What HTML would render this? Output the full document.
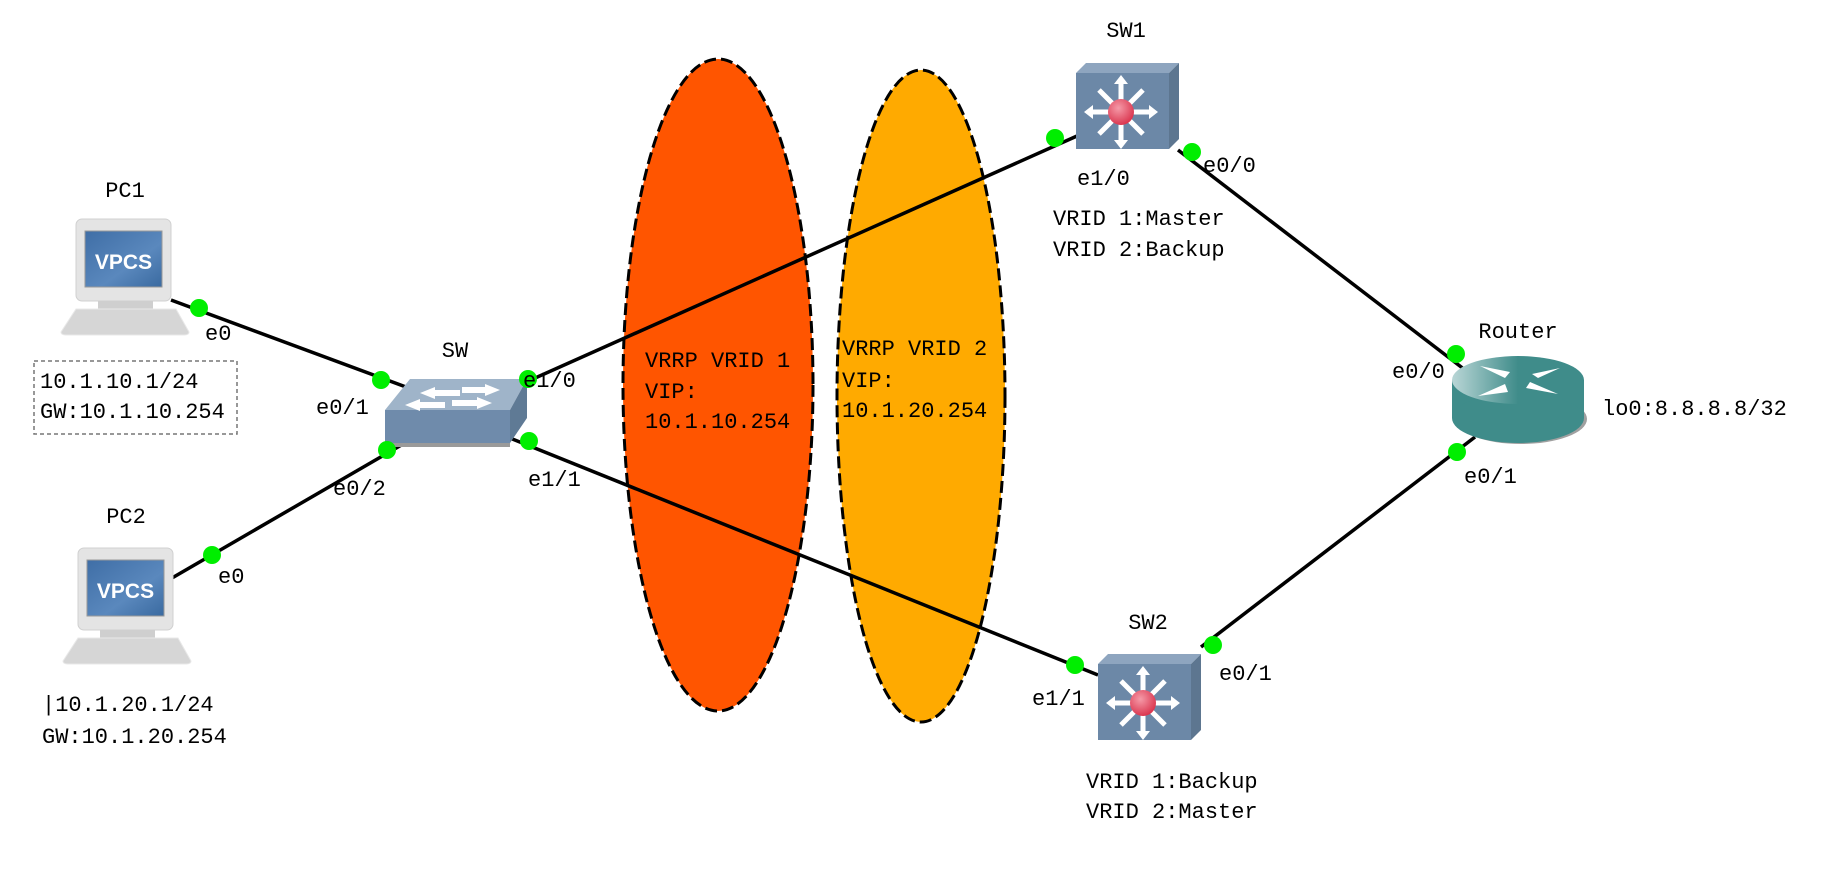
<!DOCTYPE html>
<html><head><meta charset="utf-8"><style>
html,body{margin:0;padding:0;background:#fff;}
svg text{font-family:"Liberation Mono","Noto Sans CJK SC",monospace;font-size:22px;fill:#000;}
</style></head><body>
<svg width="1828" height="864" viewBox="0 0 1828 864" xmlns="http://www.w3.org/2000/svg">
<defs>
<linearGradient id="scr" x1="0" y1="0" x2="1" y2="1"><stop offset="0" stop-color="#3f6ea6"/><stop offset="0.6" stop-color="#5a88bd"/><stop offset="1" stop-color="#3a6aa0"/></linearGradient>
<linearGradient id="rt" x1="0" y1="0" x2="1" y2="0"><stop offset="0" stop-color="#b9d6d6"/><stop offset="0.5" stop-color="#3f8c8a"/><stop offset="1" stop-color="#3f8c8a"/></linearGradient>
<radialGradient id="red" cx="0.4" cy="0.35" r="0.7"><stop offset="0" stop-color="#f59aa8"/><stop offset="1" stop-color="#d9304a"/></radialGradient>
<g id="pc">
<rect x="0" y="0" width="95" height="82" rx="6" fill="#e4e4e4" stroke="#d0d0d0"/>
<rect x="9" y="12" width="77" height="56" fill="url(#scr)" stroke="#999"/>
<text x="47.5" y="50" text-anchor="middle" style="font-family:'Liberation Sans',sans-serif;font-weight:bold;font-size:21px;fill:#fff">VPCS</text>
<rect x="22" y="82" width="55" height="8" fill="#cfcfcf"/>
<path d="M-15 113 L0 90 L100 90 L113 113 Q113 116 108 116 L-10 116 Q-15 116 -15 113Z" fill="#d6d6d6" stroke="#e8e8e8"/>
</g>
<g id="l3">
<path d="M0 10 L10 0 L103 0 L93 10Z" fill="#8ea5bf"/>
<path d="M93 10 L103 0 L103 76 L93 86Z" fill="#5d7690"/>
<rect x="0" y="10" width="93" height="76" fill="#6c88a7"/>
<g stroke="#fff" stroke-width="5" fill="#fff">
<line x1="45" y1="49" x2="45" y2="18"/><line x1="45" y1="49" x2="45" y2="80"/>
<line x1="45" y1="49" x2="14" y2="49"/><line x1="45" y1="49" x2="76" y2="49"/>
<line x1="45" y1="49" x2="23" y2="27"/><line x1="45" y1="49" x2="67" y2="27"/>
<line x1="45" y1="49" x2="23" y2="71"/><line x1="45" y1="49" x2="67" y2="71"/>
</g>
<g fill="#fff"><path d="M38 21 L45 12 L52 21Z"/><path d="M38 77 L45 86 L52 77Z"/><path d="M17 42 L8 49 L17 56Z"/><path d="M73 42 L82 49 L73 56Z"/></g>
<circle cx="45" cy="49" r="13" fill="url(#red)"/>
</g>
</defs>

<ellipse cx="718" cy="385" rx="95" ry="326" fill="#ff5500" stroke="#000" stroke-width="3" stroke-dasharray="12,5"/>
<ellipse cx="921" cy="396" rx="84" ry="326" fill="#ffaa00" stroke="#000" stroke-width="3" stroke-dasharray="12,5"/>

<g stroke="#000" stroke-width="3.5">
<line x1="171" y1="300" x2="406" y2="387"/>
<line x1="172" y1="578" x2="410" y2="440"/>
<line x1="515" y1="387" x2="1077" y2="136"/>
<line x1="500" y1="434" x2="1098" y2="675"/>
<line x1="1178" y1="150" x2="1469" y2="373"/>
<line x1="1475" y1="437" x2="1201" y2="647"/>
</g>

<use href="#pc" x="76" y="219"/>
<use href="#pc" x="78" y="548"/>

<g>
<path d="M385 410 L410 379 L527 379 L510 410Z" fill="#9fb4c9"/>
<path d="M510 410 L527 379 L527 418 L510 443Z" fill="#5f7a95"/>
<rect x="385" y="410" width="125" height="33" fill="#6f8bab"/>
<rect x="392" y="443" width="118" height="4" fill="#9a9a9a"/>
<g fill="#fff"><path d="M420 393 L435 387 L435 390 L460 390 L460 396 L435 396 L435 399Z"/><path d="M500 390 L485 384 L485 387 L462 387 L462 393 L485 393 L485 396Z"/><path d="M405 405 L420 399 L420 402 L445 402 L445 408 L420 408 L420 411Z"/><path d="M492 403 L477 397 L477 400 L452 400 L452 406 L477 406 L477 409Z"/></g>
</g>

<use href="#l3" x="1076" y="63"/>
<use href="#l3" x="1098" y="654"/>

<g>
<ellipse cx="1521" cy="419" rx="66" ry="25" fill="#a0a0a0"/>
<rect x="1452" y="380" width="132" height="38" fill="#3f8c8a"/>
<ellipse cx="1518" cy="418" rx="66" ry="25" fill="#3f8c8a"/>
<ellipse cx="1518" cy="380" rx="66" ry="24" fill="url(#rt)"/>
<g fill="#fff"><path d="M1480 366 L1510 372 L1505 378 Z"/><path d="M1560 368 L1532 374 L1538 378Z"/><path d="M1478 396 L1505 384 L1508 392Z"/><path d="M1558 394 L1530 382 L1526 388Z"/></g>
</g>

<g fill="#00ee00">
<circle cx="199" cy="308" r="9"/><circle cx="381" cy="380" r="9"/><circle cx="528" cy="379" r="9"/>
<circle cx="387" cy="450" r="9"/><circle cx="529" cy="441" r="9"/><circle cx="212" cy="555" r="9"/>
<circle cx="1055" cy="138" r="9"/><circle cx="1192" cy="152" r="9"/>
<circle cx="1456" cy="354" r="9"/><circle cx="1457" cy="452" r="9"/>
<circle cx="1075" cy="665" r="9"/><circle cx="1213" cy="645" r="9"/>
</g>

<rect x="34" y="361" width="203" height="73" fill="none" stroke="#777" stroke-width="1.5" stroke-dasharray="4,3"/>

<g>
<text x="125" y="197" text-anchor="middle">PC1</text>
<text x="126" y="523" text-anchor="middle">PC2</text>
<text x="455" y="357" text-anchor="middle">SW</text>
<text x="1126" y="37" text-anchor="middle">SW1</text>
<text x="1148" y="629" text-anchor="middle">SW2</text>
<text x="1518" y="338" text-anchor="middle">Router</text>

<text x="205" y="340">e0</text>
<text x="218" y="583">e0</text>
<text x="316" y="414">e0/1</text>
<text x="523" y="387">e1/0</text>
<text x="333" y="495">e0/2</text>
<text x="528" y="486">e1/1</text>
<text x="1077" y="185">e1/0</text>
<text x="1203" y="172">e0/0</text>
<text x="1392" y="378">e0/0</text>
<text x="1464" y="483">e0/1</text>
<text x="1032" y="705">e1/1</text>
<text x="1219" y="680">e0/1</text>

<text x="40" y="388">10.1.10.1/24</text>
<text x="40" y="418">GW:10.1.10.254</text>
<text x="42" y="711">|10.1.20.1/24</text>
<text x="42" y="743">GW:10.1.20.254</text>

<text x="645" y="367">VRRP VRID 1</text>
<text x="645" y="398">VIP:</text>
<text x="645" y="428">10.1.10.254</text>
<text x="842" y="355">VRRP VRID 2</text>
<text x="842" y="387">VIP:</text>
<text x="842" y="417">10.1.20.254</text>

<text x="1053" y="225">VRID 1:Master</text>
<text x="1053" y="256">VRID 2:Backup</text>
<text x="1086" y="788">VRID 1:Backup</text>
<text x="1086" y="818">VRID 2:Master</text>
<text x="1602" y="415">lo0:8.8.8.8/32</text>
</g>
</svg>
</body></html>
